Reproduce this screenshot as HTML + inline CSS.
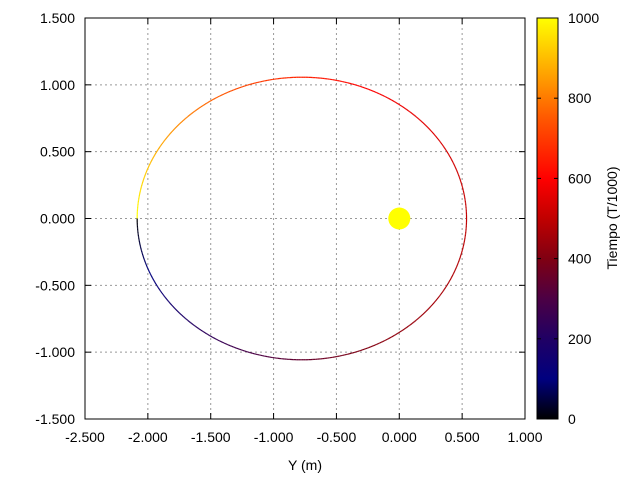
<!DOCTYPE html>
<html><head><meta charset="utf-8"><style>
body{margin:0;background:#fff;}
svg{display:block;font-family:"Liberation Sans",sans-serif;}
</style></head><body>
<svg id="c" width="640" height="480">
<defs><linearGradient id="g" x1="0" y1="1" x2="0" y2="0">
<stop offset="0" stop-color="#000000"/><stop offset="0.1" stop-color="#00007f"/>
<stop offset="0.2" stop-color="#200064"/><stop offset="0.3" stop-color="#4c0044"/>
<stop offset="0.4" stop-color="#800012"/><stop offset="0.5" stop-color="#c00000"/>
<stop offset="0.6" stop-color="#ff0000"/><stop offset="0.75" stop-color="#ff5800"/>
<stop offset="0.85" stop-color="#ff9c00"/><stop offset="1" stop-color="#ffff00"/>
</linearGradient></defs>
</svg>
<script>
const xTicks=[-2.5,-2.0,-1.5,-1.0,-0.5,0.0,0.5,1.0];
const xLabels=["-2.500","-2.000","-1.500","-1.000","-0.500","0.000","0.500","1.000"];
const yTicks=[-1.5,-1.0,-0.5,0.0,0.5,1.0,1.5];
const yLabels=["-1.500","-1.000","-0.500","0.000","0.500","1.000","1.500"];
const cbTicks=[0,200,400,600,800,1000];
const orbitCenter=[-0.775,0.0];
const orbitAxes=[1.31,1.057];
const sunPos=[0,0];
const tMax=1000;
const NS='http://www.w3.org/2000/svg';
const svg=document.getElementById('c');
const L=85,R=525,T=18,B=419;
const sx=v=>L+(v+2.5)/3.5*(R-L);
const sy=v=>B-(v+1.5)/3*(B-T);
function mk(t,a,p){const e=document.createElementNS(NS,t);for(const k in a)e.setAttribute(k,a[k]);(p||svg).appendChild(e);return e;}
mk('rect',{x:L,y:T,width:R-L,height:B-T,fill:'#fff'});
xTicks.forEach((v,i)=>{
 if(i>0&&i<xTicks.length-1){const g=mk('line',{x1:sx(v),x2:sx(v),y1:T,y2:B,stroke:'#999','stroke-dasharray':'2,3'});
 
 }
 const t=mk('text',{x:sx(v),y:B+23,'text-anchor':'middle','font-size':14});t.textContent=xLabels[i];
 
 
 mk('line',{x1:sx(v),x2:sx(v),y1:B,y2:B-6,stroke:'#000'});mk('line',{x1:sx(v),x2:sx(v),y1:T,y2:T+6,stroke:'#000'});
});
yTicks.forEach((v,i)=>{
 if(i>0&&i<yTicks.length-1){const g=mk('line',{x1:L,x2:R,y1:sy(v),y2:sy(v),stroke:'#999','stroke-dasharray':'2,3'});
 
 }
 const t=mk('text',{x:L-10,y:sy(v)+5,'text-anchor':'end','font-size':14});t.textContent=yLabels[i];
 
 
 mk('line',{x1:L,x2:L+6,y1:sy(v),y2:sy(v),stroke:'#000'});mk('line',{x1:R,x2:R-6,y1:sy(v),y2:sy(v),stroke:'#000'});
});
// colormap
const stops=[[0,0,0,0],[0.1,0,0,127],[0.2,32,0,100],[0.3,76,0,68],[0.4,128,0,18],[0.5,192,0,0],[0.6,255,0,0],[0.75,255,88,0],[0.85,255,156,0],[1,255,255,0]];
function cmap(f){for(let i=1;i<stops.length;i++){if(f<=stops[i][0]){const a=stops[i-1],b=stops[i],k=(f-a[0])/(b[0]-a[0]);return 'rgb('+[1,2,3].map(j=>Math.round(a[j]+k*(b[j]-a[j]))).join(',')+')';}}return 'rgb(255,255,0)';}
const a=orbitAxes[0],b=orbitAxes[1],e=Math.abs(orbitCenter[0]-sunPos[0])/a;
const N=600;let prev=null;
for(let i=0;i<=N;i++){
 const E=Math.PI+2*Math.PI*i/N;
 const x=orbitCenter[0]+a*Math.cos(E),y=orbitCenter[1]+b*Math.sin(E);
 const t=((E-e*Math.sin(E))-Math.PI)/(2*Math.PI)*tMax;
 if(prev){const s=mk('line',{x1:sx(prev[0]),y1:sy(prev[1]),x2:sx(x),y2:sy(y),stroke:cmap(t/tMax),'stroke-width':1.2});
 
 }
 prev=[x,y];
}
const sun=mk('circle',{cx:sx(sunPos[0]),cy:sy(sunPos[1]),r:11,fill:'#ffff00'});


mk('rect',{x:L,y:T,width:R-L,height:B-T,fill:'none',stroke:'#000'});
const xt=mk('text',{x:(L+R)/2,y:470,'text-anchor':'middle','font-size':14});xt.textContent='Y (m)';


// colorbar
const cb=mk('rect',{x:537,y:T,width:21,height:B-T,fill:'url(#g)',stroke:'#000'});


const cy=v=>B-v/1000*(B-T);
cbTicks.forEach(v=>{
 mk('line',{x1:537,x2:541,y1:cy(v),y2:cy(v),stroke:'#000'});mk('line',{x1:558,x2:554,y1:cy(v),y2:cy(v),stroke:'#000'});
 const t=mk('text',{x:568,y:cy(v)+5,'font-size':14});t.textContent=v;
 
 
});
const ct=mk('text',{x:0,y:0,'text-anchor':'middle','font-size':14,transform:'translate(617,218) rotate(-90)'});ct.textContent='Tiempo (T/1000)';


</script>
</body></html>
